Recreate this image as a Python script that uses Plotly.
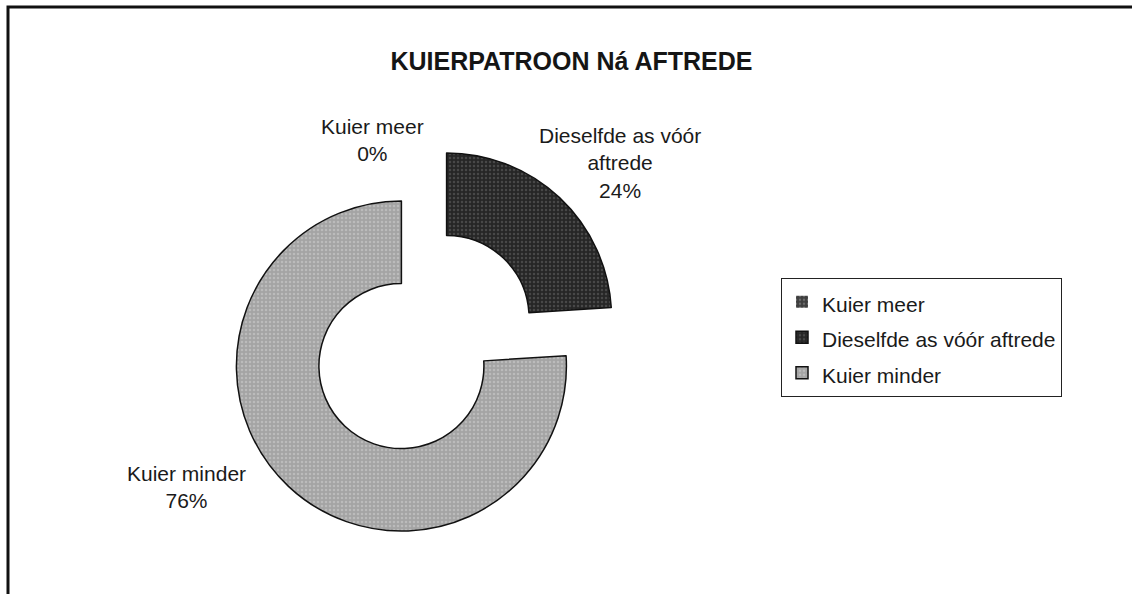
import plotly.graph_objects as go

# ---- data ----
categories = ["Kuier meer", "Dieselfde as vóór aftrede", "Kuier minder"]
values = [0, 24, 76]
slice_labels = ["Kuier meer<br>0%", "Dieselfde as vóór<br>aftrede<br>24%", "Kuier minder<br>76%"]
title_text = "KUIERPATROON Ná AFTREDE"

# ---- style ----
W, H = 1132, 594
FONT = "Liberation Sans, Arial, sans-serif"
colors = ["#3e3e3e", "#262626", "#a4a4a4"]
pattern_fg = ["#9a9a9a", "#6a6a6a", "#d2d2d2"]
pulls = [0, 0.2, 0.2]
line_widths = [0, 1.5, 1.5]

legend_names = [f"<span style='font-size:21px'>{c}</span>" for c in categories]

fig = go.Figure()
fig.add_trace(go.Pie(
    labels=legend_names,
    values=values,
    sort=False,
    direction="clockwise",
    rotation=0,
    hole=0.5,
    pull=pulls,
    textinfo="none",
    hoverinfo="label+percent",
    marker=dict(
        colors=colors,
        line=dict(color="#111111", width=line_widths),
        pattern=dict(shape=".", fgcolor=pattern_fg, size=4, solidity=0.3, fillmode="overlay"),
    ),
    domain=dict(x=[226 / W, 622 / W], y=[1 - 540 / H, 1 - 144 / H]),
))

# outside slice labels (text annotations)
label_pos = [(372, 139.5), (620, 162.5), (186, 486.5)]
for txt, (px, py) in zip(slice_labels, label_pos):
    fig.add_annotation(
        text=txt, x=px / W, y=1 - py / H, xref="paper", yref="paper",
        xanchor="center", yanchor="middle", showarrow=False, align="center",
        font=dict(family=FONT, size=21, color="#1a1a1a"),
    )

# frame (top and left edges, like the scanned page) as one open path
yt = 1 - 7 / H
xl = 8 / W
fig.add_shape(type="path", xref="paper", yref="paper",
              path=f"M {xl},-0.05 L {xl},{yt} L 1.2,{yt}",
              line=dict(color="#111111", width=3))

fig.update_layout(
    width=W, height=H,
    margin=dict(l=0, r=0, t=0, b=0),
    paper_bgcolor="white", plot_bgcolor="white",
    title=dict(text=f"<b>{title_text}</b>", x=571.5 / W, y=1 - 61.5 / H,
               xanchor="center", yanchor="middle", xref="paper", yref="container",
               font=dict(family=FONT, size=25, color="#151515")),
    showlegend=True,
    legend=dict(
        x=781 / W, y=1 - 278 / H, xanchor="left", yanchor="top",
        bgcolor="white", bordercolor="#222222", borderwidth=1,
        font=dict(family=FONT, size=25, color="#1a1a1a"),
        traceorder="normal",
    ),
)

fig.write_html("out.html", config={"displayModeBar": False},
               post_script="document.body.style.margin='0px';document.body.style.overflow='hidden';")
